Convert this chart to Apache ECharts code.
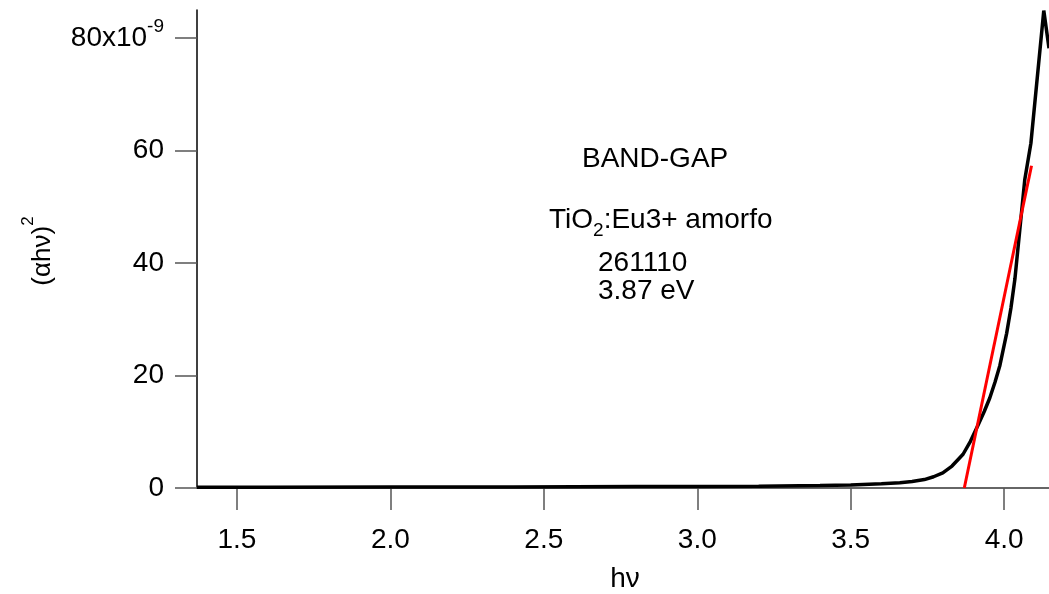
<!DOCTYPE html>
<html>
<head>
<meta charset="utf-8">
<title>Band gap TiO2:Eu3+</title>
<script src="https://cdn.jsdelivr.net/npm/echarts@6/dist/echarts.min.js"></script>
<style>
  html, body { margin: 0; padding: 0; background: #ffffff; }
  #chart { width: 1049px; height: 594px; }
</style>
</head>
<body>
<div id="chart"></div>
<script>
// Photon energy hν (eV)
const photonEnergy = [
  1.37, 1.6, 2.0, 2.4, 2.8, 3.0, 3.2, 3.4, 3.5, 3.6, 3.66, 3.7, 3.74, 3.77,
  3.80, 3.83, 3.866, 3.89, 3.915, 3.935, 3.953, 3.97, 3.986, 4.008, 4.022,
  4.035, 4.051, 4.067, 4.087, 4.129, 4.146
];
// (αhν)^2, in units of 1e-9
const absorptionSq = [
  0.15, 0.15, 0.18, 0.2, 0.25, 0.28, 0.33, 0.45, 0.55, 0.75, 0.95, 1.15, 1.5, 2.0,
  2.7, 3.9, 6.0, 8.3, 11.2, 13.6, 16.0, 18.8, 21.8, 27.5, 32.0,
  37.2, 46.0, 54.8, 61.3, 84.9, 78.2
];
// Linear fit of the absorption edge; its x-intercept is the band gap
const bandGap = 3.87;
const fitEndEnergy = 4.089;
const fitEndValue = 57.3;

const xTickValues = [1.5, 2.0, 2.5, 3.0, 3.5, 4.0];
const yTickValues = [0, 20, 40, 60, 80];
const yExponent = '-9';

const annotationLines = ['BAND-GAP', 'TiO|2|:Eu3+ amorfo', '261110', bandGap.toFixed(2) + ' eV'];

const FONT = '"Liberation Sans", Arial, Helvetica, sans-serif';
const FS = 28;
const NOTE_FS = 28;

const chart = echarts.init(document.getElementById('chart'), null, { renderer: 'canvas' });

const curveData = photonEnergy.map((x, i) => [x, absorptionSq[i]]);
const fitData = [[bandGap, 0], [fitEndEnergy, fitEndValue]];

const formulaParts = annotationLines[1].split('|');

chart.setOption({
  animation: false,
  backgroundColor: '#ffffff',
  grid: { left: 197, right: 0, top: 10, bottom: 106, containLabel: false },
  xAxis: {
    type: 'value',
    min: 1.37,
    max: 4.146,
    axisLine: { show: true, onZero: false, lineStyle: { color: '#666666', width: 2 } },
    axisTick: {
      show: true, inside: false, length: 22, customValues: xTickValues,
      lineStyle: { color: '#555555', width: 1.5 }
    },
    axisLabel: {
      show: true, customValues: xTickValues, margin: 38,
      color: '#000000', fontFamily: FONT, fontSize: FS,
      formatter: v => Number(v).toFixed(1)
    },
    splitLine: { show: false }
  },
  yAxis: {
    type: 'value',
    min: 0,
    max: 85,
    axisLine: { show: true, lineStyle: { color: '#000000', width: 1.5 } },
    axisTick: {
      show: true, inside: false, length: 22, customValues: yTickValues,
      lineStyle: { color: '#555555', width: 1.5 }
    },
    axisLabel: {
      show: true, customValues: yTickValues, margin: 33,
      color: '#000000', fontFamily: FONT,
      formatter: v => (v === yTickValues[yTickValues.length - 1]
        ? '{b|' + v + 'x10}{sup|' + yExponent + '}'
        : '{b|' + v + '}'),
      rich: {
        b: { fontFamily: FONT, fontSize: FS, lineHeight: 42, color: '#000000', verticalAlign: 'middle' },
        sup: { fontFamily: FONT, fontSize: 19, lineHeight: 19, color: '#000000', verticalAlign: 'top' }
      }
    },
    splitLine: { show: false }
  },
  series: [
    {
      type: 'line',
      data: curveData,
      showSymbol: false,
      symbol: 'none',
      smooth: false,
      clip: false,
      lineStyle: { color: '#000000', width: 3.5 },
      z: 3
    },
    {
      type: 'line',
      data: fitData,
      showSymbol: false,
      symbol: 'none',
      clip: false,
      lineStyle: { color: '#ff0000', width: 3 },
      z: 4
    }
  ],
  graphic: [
    {
      type: 'text', left: 582, top: 145,
      style: { text: annotationLines[0], font: NOTE_FS + 'px ' + FONT, fill: '#000000' }
    },
    {
      type: 'text', left: 549, top: 206,
      style: {
        text: '{n|' + formulaParts[0] + '}{s|' + formulaParts[1] + '}{n|' + formulaParts[2] + '}',
        rich: {
          n: { fontFamily: FONT, fontSize: NOTE_FS, fill: '#000000', lineHeight: 34, verticalAlign: 'top' },
          s: { fontFamily: FONT, fontSize: 19, fill: '#000000', lineHeight: 34, verticalAlign: 'bottom' }
        }
      }
    },
    {
      type: 'text', left: 598, top: 249,
      style: { text: annotationLines[2], font: NOTE_FS + 'px ' + FONT, fill: '#000000' }
    },
    {
      type: 'text', left: 598, top: 277,
      style: { text: annotationLines[3], font: NOTE_FS + 'px ' + FONT, fill: '#000000' }
    },
    {
      type: 'text', x: 38, y: 251, rotation: Math.PI / 2,
      style: {
        text: '{m|(\u03B1h\u03BD)}{p|2}',
        align: 'center', verticalAlign: 'middle',
        rich: {
          m: { fontFamily: FONT, fontSize: 26, fill: '#000000', lineHeight: 36, verticalAlign: 'bottom' },
          p: { fontFamily: FONT, fontSize: 17, fill: '#000000', lineHeight: 36, verticalAlign: 'top' }
        }
      }
    },
    {
      type: 'text', x: 625, y: 579,
      style: { text: 'h\u03BD', font: FS + 'px ' + FONT, fill: '#000000', align: 'center', verticalAlign: 'middle' }
    }
  ]
});
</script>
</body>
</html>
